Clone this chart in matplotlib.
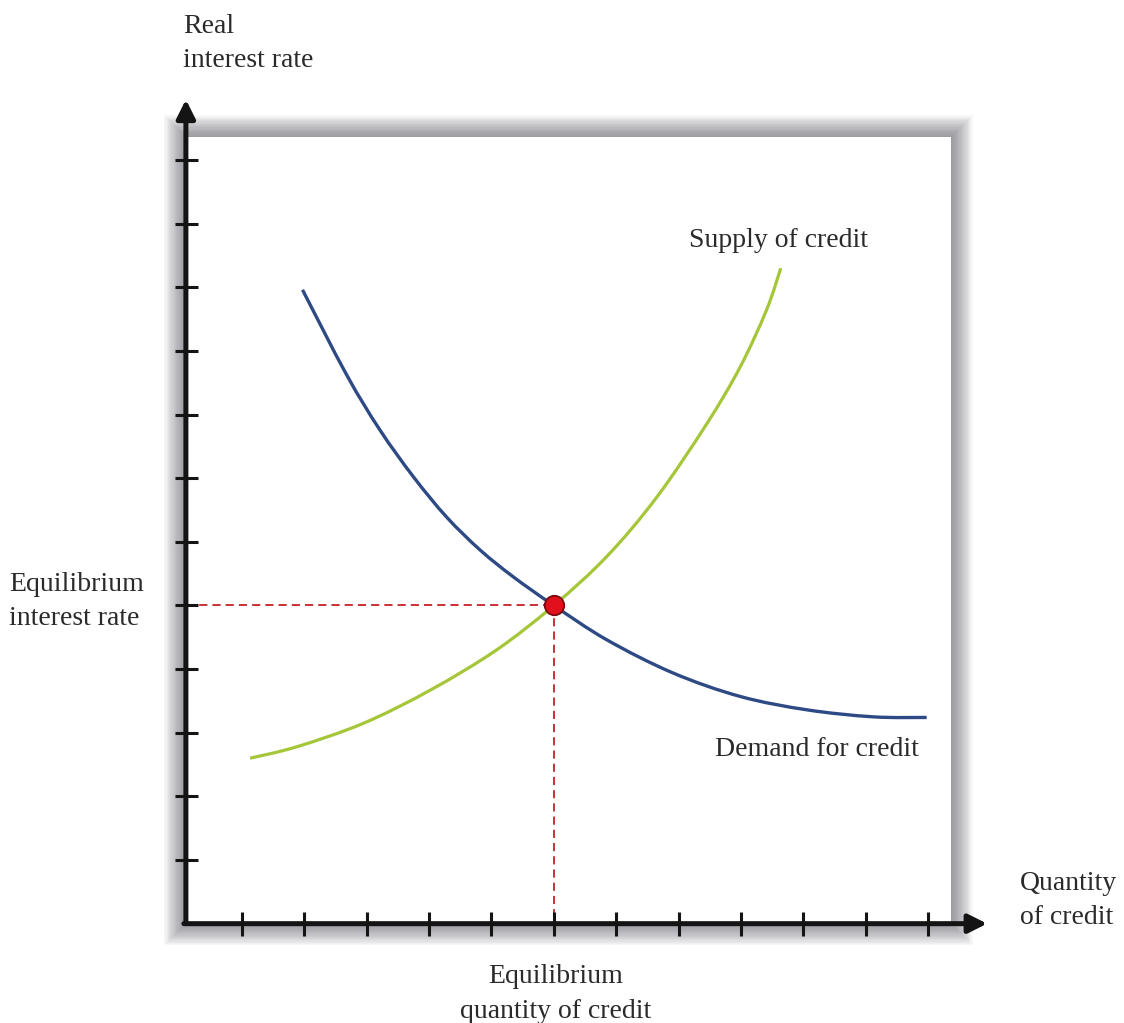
import matplotlib
matplotlib.use("Agg")
import matplotlib.pyplot as plt
from matplotlib.patches import Rectangle, PathPatch
from matplotlib.path import Path

# ---- data ----
demand_q = [1.97, 2.68, 3.21, 3.75, 4.28, 4.82, 5.35, 6.00, 6.85, 7.91, 8.99, 10.06, 11.12, 11.98]
demand_r = [9.96, 8.62, 7.76, 7.02, 6.39, 5.87, 5.45, 5.00, 4.46, 3.94, 3.57, 3.36, 3.25, 3.24]

supply_q = [1.13, 1.88, 2.95, 4.02, 5.08, 6.00, 6.85, 7.65, 8.45, 8.99, 9.41, 9.64]
supply_r = [2.60, 2.78, 3.15, 3.67, 4.30, 5.00, 5.77, 6.70, 7.85, 8.75, 9.64, 10.30]

eq_q = 6.0
eq_r = 5.0

x_ticks = list(range(1, 13))
y_ticks = list(range(1, 13))


def smooth_path(xs, ys):
    """Cubic Bezier path through the given points (Catmull-Rom tangents)."""
    pts = list(zip(xs, ys))
    verts = [pts[0]]
    codes = [Path.MOVETO]
    n = len(pts)
    for i in range(n - 1):
        p0 = pts[i - 1] if i > 0 else pts[i]
        p1 = pts[i]
        p2 = pts[i + 1]
        p3 = pts[i + 2] if i + 2 < n else pts[i + 1]
        c1 = (p1[0] + (p2[0] - p0[0]) / 6.0, p1[1] + (p2[1] - p0[1]) / 6.0)
        c2 = (p2[0] - (p3[0] - p1[0]) / 6.0, p2[1] - (p3[1] - p1[1]) / 6.0)
        verts += [c1, c2, p2]
        codes += [Path.CURVE4, Path.CURVE4, Path.CURVE4]
    return Path(verts, codes)


# ---- figure ----
W, H = 1124, 1023
fig = plt.figure(figsize=(W / 100, H / 100), dpi=100)
ax = fig.add_axes([0, 0, 1, 1])
ax.set_xlim(-2.881, 15.144)
ax.set_ylim(-1.561, 14.514)
ax.axis("off")

sx = 62.36  # pixels per x unit
sy = 63.64  # pixels per y unit

X0, Y0 = 0.10, 0.0          # axis positions
XR, YT = 12.37, 12.36       # box right / top
XTIP, YTIP = 12.95, 12.95   # arrow tips

# shadowed frame
n = 18
for i in range(n):
    pad = (n - i) * 1.2
    ax.add_patch(Rectangle((X0 - pad / sx, Y0 - pad / sy),
                           (XR - X0) + 2 * pad / sx, (YT - Y0) + 2 * pad / sy,
                           facecolor="#55555f", edgecolor="none", alpha=0.042, zorder=1))
ax.add_patch(Rectangle((X0, Y0), XR - X0, YT - Y0, facecolor="white",
                       edgecolor="none", zorder=2))

# axes with arrows
axis_col = "#141414"
ax.annotate("", xy=(X0, YTIP), xytext=(X0, Y0),
            arrowprops=dict(arrowstyle="-|>", lw=3.6, color=axis_col,
                            mutation_scale=28, shrinkA=0, shrinkB=0), zorder=6)
ax.annotate("", xy=(XTIP, Y0), xytext=(X0 - 2 / sx, Y0),
            arrowprops=dict(arrowstyle="-|>", lw=3.6, color=axis_col,
                            mutation_scale=28, shrinkA=0, shrinkB=0), zorder=6)

# ticks
ax.hlines(y_ticks, X0 - 11 / sx, X0 + 12 / sx, colors=axis_col, lw=2.2, zorder=6)
ax.vlines(x_ticks, Y0 - 12 / sy, Y0 + 12 / sy, colors=axis_col, lw=2.2, zorder=6)

# dashed guides
dash_col = "#cc3038"
ax.plot([X0, eq_q], [eq_r, eq_r], color=dash_col, lw=1.4,
        linestyle=(0, (4.2, 2.6)), zorder=3)
ax.plot([eq_q, eq_q], [eq_r, Y0], color=dash_col, lw=1.4,
        linestyle=(0, (4.2, 2.6)), zorder=3)

# curves (smooth paths through the read points)
ax.add_patch(PathPatch(smooth_path(supply_q, supply_r), facecolor="none",
                       edgecolor="#a6c63a", lw=2.3, zorder=4, capstyle="butt"))
ax.add_patch(PathPatch(smooth_path(demand_q, demand_r), facecolor="none",
                       edgecolor="#2e4a85", lw=2.4, zorder=4, capstyle="butt"))

# equilibrium point
ax.plot([eq_q], [eq_r], marker="o", markersize=14, color="#e0101c",
        markeredgecolor="#7a0a10", markeredgewidth=1.3, zorder=7)

# text
tc = "#2a2a2a"
fam = ["Liberation Serif", "DejaVu Serif"]
fs = 20
ls = 1.5
ax.text(0.05, 14.30, "Real\ninterest rate", ha="left", va="top",
        fontsize=fs, family=fam, color=tc, linespacing=ls)
ax.text(8.17, 10.74, "Supply of credit", ha="left", va="center",
        fontsize=fs, family=fam, color=tc)
ax.text(8.59, 2.73, "Demand for credit", ha="left", va="center",
        fontsize=fs, family=fam, color=tc)
ax.text(-2.73, 5.06, "Equilibrium\ninterest rate", ha="left", va="center",
        fontsize=fs, family=fam, color=tc, linespacing=ls)
ax.text(13.48, 0.36, "Quantity\nof credit", ha="left", va="center",
        fontsize=fs, family=fam, color=tc, linespacing=ls)
ax.text(6.03, -0.64, "Equilibrium\nquantity of credit", ha="center", va="top",
        fontsize=fs, family=fam, color=tc, linespacing=ls)

fig.savefig("out.png", dpi=100, facecolor="white")
